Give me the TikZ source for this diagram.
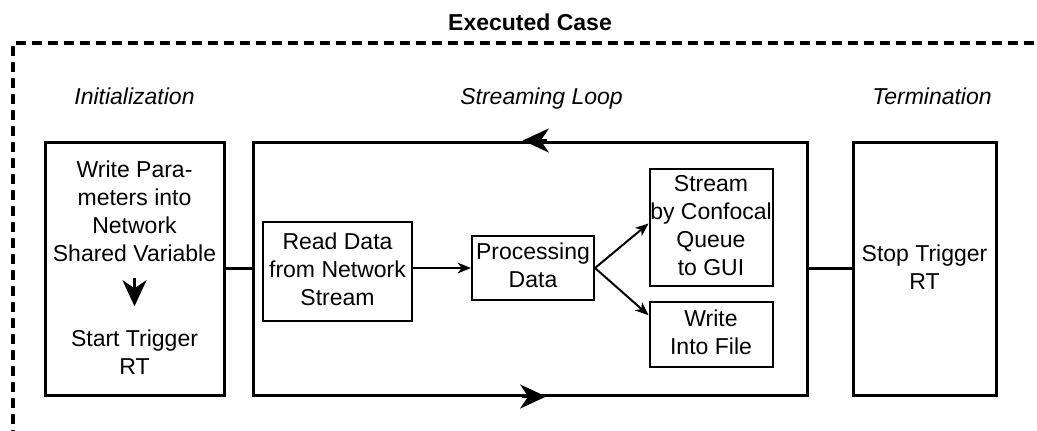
\documentclass[tikz,border=0pt]{standalone}
\usepackage{fontspec}
\setmainfont{Liberation Sans}
\usetikzlibrary{arrows.meta,calc}
\begin{document}
\begin{tikzpicture}[x=0.75pt,y=-0.75pt,
  txt/.style={font=\fontsize{17.25}{21}\selectfont, align=center, inner sep=0pt},
  phase/.style={font=\fontsize{17.25}{21}\selectfont\itshape, anchor=base, inner sep=0pt},
  stagebox/.style={draw, line width=2.25pt, inner sep=0pt},
  taskbox/.style={draw, line width=1.5pt, txt},
  link/.style={line width=2.25pt},
  loophead/.style={-{Stealth[length=19.5pt,width=18pt,inset=6pt]}, line width=2.25pt},
  flow/.style={-{Stealth[length=10pt,width=8pt,inset=3pt]}, line width=1.5pt},
]
\useasboundingbox (0,0) rectangle (1037,430);

% frame of the executed case (open to the right and bottom)
\coordinate (frameBL) at (13,440);
\coordinate (frameTL) at (13,43);
\coordinate (frameTR) at (1045,43);
\draw[line width=2.4pt, dash pattern=on 7.5pt off 4.5pt] (frameBL) -- (frameTL) -- (frameTR);
\node[font=\fontsize{17.25}{21}\selectfont\bfseries, anchor=base, inner sep=0pt] (title) at (530,30) {Executed Case};

% phase labels
\node[phase] (lblInit) at (134.5,104) {Initialization};
\node[phase] (lblLoop) at (541.5,104) {Streaming Loop};
\node[phase] (lblTerm) at (932,104) {Termination};

% stage boxes
\node[stagebox, minimum width=179*0.75pt, minimum height=253*0.75pt] (init) at (134.5,268.5) {};
\node[stagebox, minimum width=554*0.75pt, minimum height=253*0.75pt] (loop) at (530,268.5) {};
\node[stagebox, minimum width=143*0.75pt, minimum height=253*0.75pt] (term) at (924.5,268.5) {};

% initialization contents
\node[txt] (initA) at (134.5,213.5) {\strut Write Para-\\meters into\\Network\\Shared Variable\strut};
\node[txt] (initB) at (134.5,354.5) {\strut Start Trigger\\RT\strut};
\draw[loophead, shorten <=6pt, shorten >=15pt] (initA.south) -- (initB.north);

% termination contents
\node[txt] (termT) at (924.5,269.5) {\strut Stop Trigger\\RT\strut};

% streaming loop contents
\node[taskbox, minimum width=149*0.75pt, minimum height=99*0.75pt] (read) at (337.5,271.5) {\strut Read Data\\from Network\\Stream\strut};
\node[taskbox, minimum width=122*0.75pt, minimum height=64*0.75pt] (proc) at (533,268) {\strut Processing\\Data\strut};
\node[taskbox, minimum width=123*0.75pt, minimum height=117*0.75pt] (stream) at (711,227.5) {\strut Stream\\by Confocal\\Queue\\to GUI\strut};
\node[taskbox, minimum width=123*0.75pt, minimum height=65*0.75pt] (file) at (711,334.5) {\strut Write\\Into File\strut};

\draw[flow] (read.east |- proc.west) -- (proc.west);
\draw[flow] (proc.east) -- ([yshift=3pt]stream.west);
\draw[flow] (proc.east) -- ([yshift=14.5pt]file.west);

% loop direction marks on the loop border
\draw[loophead] ($(loop.north west)!0.53!(loop.north east)$) -- ($(loop.north west)!0.487!(loop.north east)$);
\draw[loophead] ($(loop.south west)!0.485!(loop.south east)$) -- ($(loop.south west)!0.529!(loop.south east)$);

% connections between stages
\draw[link] (init.east) -- (loop.west);
\draw[link] (loop.east) -- (term.west);
\end{tikzpicture}
\end{document}
